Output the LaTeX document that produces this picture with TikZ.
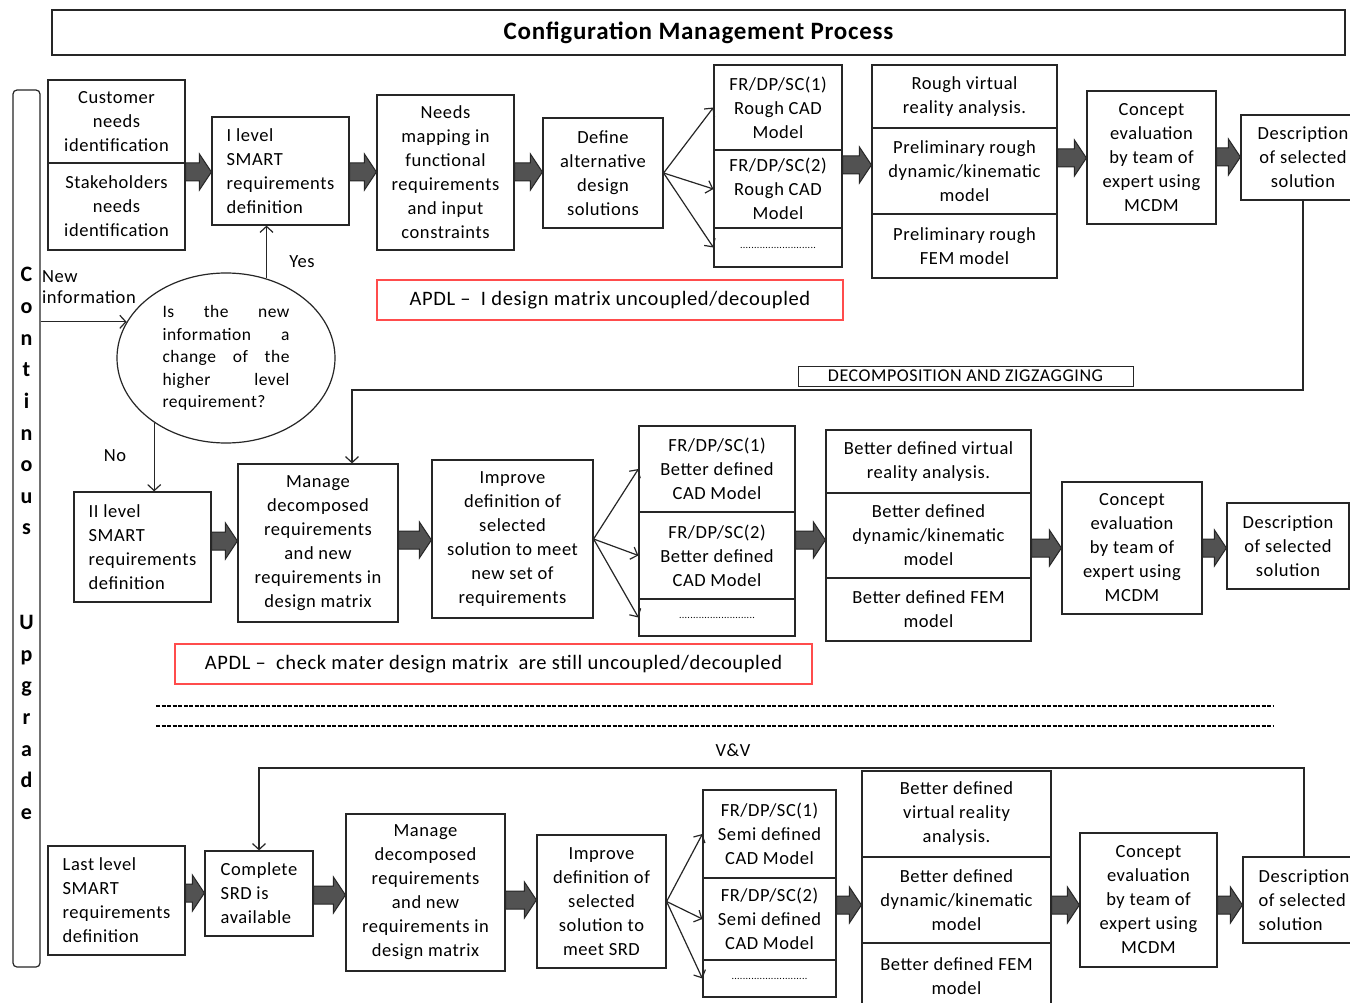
\documentclass[tikz,border=0pt]{standalone}
\usepackage{fontspec}
\setmainfont{Carlito}[LetterSpace=3]
\usetikzlibrary{shapes.geometric,arrows.meta,calc}

\tikzset{
  box/.style={draw=black!85, line width=1.2pt, fill=white, inner sep=0pt,
    align=center, font=\fontsize{18.5}{24}\selectfont},
  redbox/.style={draw=red!70!white, line width=1.2pt, inner sep=0pt,
    font=\fontsize{20.5}{24}\selectfont},
  ellnode/.style={ellipse, draw=black!85, line width=1.2pt, inner sep=0pt,
    align=left, font=\fontsize{17.5}{22.5}\selectfont},
  lbl/.style={inner sep=0pt, font=\fontsize{18.5}{21}\selectfont},
  vlet/.style={inner sep=0pt, anchor=base, font=\bfseries\fontsize{22}{22}\selectfont},
  arr/.style={line width=1.2pt, draw=black!85, -{Straight Barb[length=6pt,width=13pt]}},
  fatarrow/.style={fill=black!68, draw=black!85, line width=1pt, line join=miter},
  dashline/.style={line width=1.1pt, dash pattern=on 4pt off 1.5pt},
}

% box given by its corners: [options]{x1}{y1}{x2}{y2}{name}{text}
\newcommand\bx[7][]{%
  \node[box,#1,minimum width={#4-#2},minimum height={#5-#3}] (#6)
    at ({(#2+#4)/2},{(#3+#5)/2}) {#7};}

% block arrow from the east side of #1 to the west side of #2 at height #3
\newcommand\blockarr[3]{%
  \path[fatarrow] let \p1=(#1.east), \p2=(#2.west) in
    (\x1,{-(#3-9)*1pt}) -- ({\x2-12pt},{-(#3-9)*1pt}) -- ({\x2-12pt},{-(#3-18)*1pt})
    -- (\x2,{-#3*1pt}) -- ({\x2-12pt},{-(#3+18)*1pt}) -- ({\x2-12pt},{-(#3+9)*1pt})
    -- (\x1,{-(#3+9)*1pt}) -- cycle;}

\newcommand\dotrow{{\fontsize{10}{10}\selectfont ...........................}}

\begin{document}
\begin{tikzpicture}[x=1pt,y=-1pt]
\useasboundingbox (0,0) rectangle (1350,1003);
\fill[white] (0,0) rectangle (1350,1003);
\clip (0,0) rectangle (1350,1003);

% title bar
\node[draw=black!85, line width=1.2pt, minimum width=1293, minimum height=45, inner sep=0pt,
  font=\bfseries\fontsize{25}{25}\selectfont] (title) at (698.5,32.5) {Configuration Management Process};

% side bar "Continuous Upgrade"
\node[draw=black!85, line width=1.2pt, rounded corners=4pt, minimum width=27, minimum height=877,
  inner sep=0pt] (cu) at (26.5,528.5) {};
\foreach \ch [count=\i from 0] in {C,o,n,t,i,n,o,u,s}
  \node[vlet] (cl\i) at (26.5,{282+31.6*\i}) {\ch};
\foreach \ch [count=\i from 0] in {U,p,g,r,a,d,e}
  \node[vlet] (ul\i) at (26.5,{629.6+31.6*\i}) {\ch};

% ---------------- first level ----------------
\bx{48}{80}{185}{163}{cust}{Customer\\needs\\identification}
\bx{48}{163}{185}{250}{stake}{Stakeholders\\needs\\identification}
\bx[align=left]{212}{117}{349}{225}{ilev}{I level\\SMART\\requirements\\definition}
\bx{377}{95}{514}{250}{needs}{Needs\\mapping in\\functional\\requirements\\and input\\constraints}
\bx{543}{118}{663}{228}{define}{Define\\alternative\\design\\solutions}
\bx{714}{65}{842}{150}{fra}{FR/DP/SC(1)\\Rough CAD\\Model}
\bx{714}{150}{842}{228}{frb}{FR/DP/SC(2)\\Rough CAD\\Model}
\bx{714}{228}{842}{267}{frc}{\dotrow}
\bx{872}{65}{1057}{128}{rva}{Rough virtual\\reality analysis.}
\bx{872}{128}{1057}{214}{rvb}{Preliminary rough\\dynamic/kinematic\\model}
\bx{872}{214}{1057}{278}{rvc}{Preliminary rough\\FEM model}
\bx{1087}{91}{1216}{224}{conc1}{Concept\\evaluation\\by team of\\expert using\\MCDM}
\bx{1241}{115}{1365}{200}{desc1}{Description\\of selected\\solution}

\blockarr{cust}{ilev}{172}
\blockarr{ilev}{needs}{172}
\blockarr{needs}{define}{172}
\blockarr{fra}{rvb}{165}
\blockarr{rva}{conc1}{158}
\blockarr{conc1}{desc1}{157}

\draw[arr] (define.east) -- (fra.west);
\draw[arr] (define.east) -- (frb.west);
\draw[arr] (define.east) -- (frc.west);

\node[redbox, minimum width=466, minimum height=40] (apdl1) at (610,300)
  {APDL --\enspace I design matrix uncoupled/decoupled};

% decision
\node[ellnode, minimum width=218, minimum height=170] (ell) at (226,358)
  {\makebox[127pt][s]{Is the new}\\
   \makebox[127pt][s]{information a}\\
   \makebox[127pt][s]{change of the}\\
   \makebox[127pt][s]{higher level}\\
   requirement?};
\node[lbl, align=left, anchor=north west] (newinfo) at (42,270) {New\\information};
\node[lbl] (yes) at (302,262) {Yes};
\node[lbl] (no) at (115,456) {No};
\draw[arr] (cu.east |- ell.160) -- (ell.160);
\draw[arr] (ell.63) -- (ell.63 |- ilev.south);

% ---------------- second level ----------------
\bx[align=left]{74}{492}{211}{602}{iil}{II level\\SMART\\requirements\\definition}
\bx{238}{464}{398}{622}{man2}{Manage\\decomposed\\requirements\\and new\\requirements in\\design matrix}
\bx{432}{460}{593}{618}{imp2}{Improve\\definition of\\selected\\solution to meet\\new set of\\requirements}
\bx{639}{426}{795}{512}{frd}{FR/DP/SC(1)\\Better defined\\CAD Model}
\bx{639}{512}{795}{599}{fre}{FR/DP/SC(2)\\Better defined\\CAD Model}
\bx{639}{599}{795}{636}{frf}{\dotrow}
\bx{826}{430}{1031}{493}{bva}{Better defined virtual\\reality analysis.}
\bx{826}{493}{1031}{578}{bvb}{Better defined\\dynamic/kinematic\\model}
\bx{826}{578}{1031}{641}{bvc}{Better defined FEM\\model}
\bx{1062}{482}{1202}{614}{conc2}{Concept\\evaluation\\by team of\\expert using\\MCDM}
\bx{1227}{503}{1349}{589}{desc2}{Description\\of selected\\solution}

\draw[arr] (ell.222) -- (ell.222 |- iil.north);

\blockarr{iil}{man2}{541}
\blockarr{man2}{imp2}{540}
\blockarr{fre}{bvb}{540}
\blockarr{bvb}{conc2}{548}
\blockarr{conc2}{desc2}{548}

\draw[arr] (imp2.east) -- (frd.west);
\draw[arr] (imp2.east) -- (fre.west);
\draw[arr] (imp2.east) -- (frf.west);

% decomposition feedback
\node[draw=black!85, line width=1pt, minimum width=335, minimum height=20, inner sep=0pt,
  font=\fontsize{18}{18}\selectfont] (dz) at (965.5,376) {DECOMPOSITION AND ZIGZAGGING};
\coordinate (k1) at (1303,390);
\draw[arr] (desc1.south) -- (k1) -| ([xshift=34pt]man2.north);

\node[redbox, minimum width=637, minimum height=40] (apdl2) at (493.5,664)
  {APDL --\enspace check mater design matrix\enspace are still uncoupled/decoupled};

% separators
\coordinate (s1a) at (156,706); \coordinate (s1b) at (1273,706);
\coordinate (s2a) at (156,726); \coordinate (s2b) at (1273,726);
\draw[dashline] (s1a) -- (s1b);
\draw[dashline] (s2a) -- (s2b);

% ---------------- last level ----------------
\node[lbl] (vv) at (733,750) {V\&V};

\bx[align=left]{48}{846}{185}{955}{last}{Last level\\SMART\\requirements\\definition}
\bx[align=left]{205}{851}{313}{936}{srd}{Complete\\SRD is\\available}
\bx{346}{814}{505}{971}{man3}{Manage\\decomposed\\requirements\\and new\\requirements in\\design matrix}
\bx{537}{835}{666}{968}{imp3}{Improve\\definition of\\selected\\solution to\\meet SRD}
\bx{703}{790}{836}{878}{frg}{FR/DP/SC(1)\\Semi defined\\CAD Model}
\bx{703}{878}{836}{960}{frh}{FR/DP/SC(2)\\Semi defined\\CAD Model}
\bx{703}{960}{836}{997}{fri}{\dotrow}
\bx{862}{771}{1051}{857}{cva}{Better defined\\virtual reality\\analysis.}
\bx{862}{857}{1051}{943}{cvb}{Better defined\\dynamic/kinematic\\model}
\bx{862}{943}{1051}{1010}{cvc}{Better defined FEM\\model}
\bx{1080}{833}{1217}{967}{conc3}{Concept\\evaluation\\by team of\\expert using\\MCDM}
\bx[align=left]{1243}{857}{1365}{943}{desc3}{Description\\of selected\\solution}

\blockarr{last}{srd}{893}
\blockarr{srd}{man3}{895}
\blockarr{man3}{imp3}{900}
\blockarr{frh}{cvb}{905}
\blockarr{cvb}{conc3}{905}
\blockarr{conc3}{desc3}{905}

\draw[arr] (imp3.east) -- (frg.west);
\draw[arr] (imp3.east) -- (frh.west);
\draw[arr] (imp3.east) -- (fri.west);

% V&V feedback
\coordinate (k2) at (1304,768);
\draw[arr] (desc3.north) -- (k2) -| (srd.north);

\end{tikzpicture}
\end{document}
